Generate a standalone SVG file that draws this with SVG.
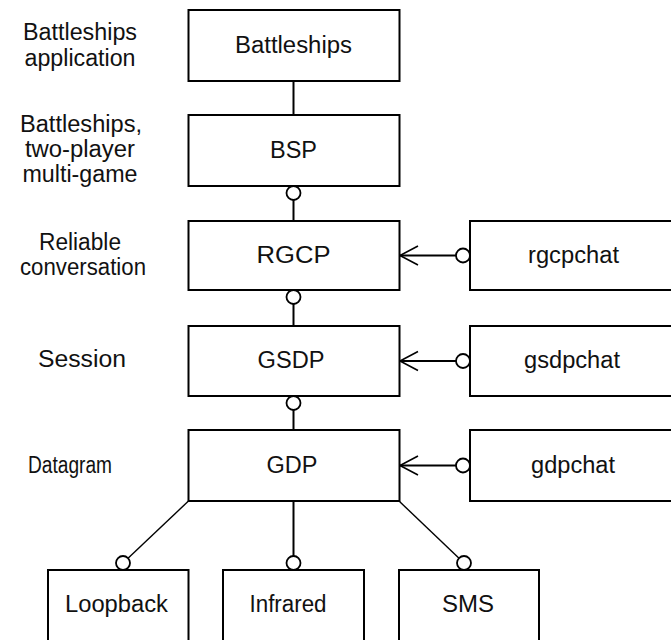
<svg xmlns="http://www.w3.org/2000/svg" width="671" height="640" viewBox="0 0 671 640">
<style>
  .box { fill: #fff; stroke: #000; stroke-width: 2; }
  .t { font-family: "Liberation Sans", Arial, sans-serif; font-size: 23px; fill: #111; text-anchor: middle; }
  .ln { stroke: #000; stroke-width: 2; fill: none; }
  .ar { stroke: #000; stroke-width: 1.6; fill: none; }
  .dg { stroke: #000; stroke-width: 1.4; fill: none; }
  .lol { fill: #fff; stroke: #000; stroke-width: 1.8; }
</style>
<rect width="671" height="640" fill="#fff"/>

<g id="layer-labels">
  <text class="t" x="80" y="40" textLength="114" lengthAdjust="spacingAndGlyphs">Battleships</text>
  <text class="t" x="80" y="66" textLength="111" lengthAdjust="spacingAndGlyphs">application</text>
  <text class="t" x="81" y="132" textLength="122" lengthAdjust="spacingAndGlyphs">Battleships,</text>
  <text class="t" x="80" y="157" textLength="110" lengthAdjust="spacingAndGlyphs">two-player</text>
  <text class="t" x="80" y="182" textLength="115" lengthAdjust="spacingAndGlyphs">multi-game</text>
  <text class="t" x="80" y="250" textLength="82" lengthAdjust="spacingAndGlyphs">Reliable</text>
  <text class="t" x="83" y="275" textLength="126" lengthAdjust="spacingAndGlyphs">conversation</text>
  <text class="t" x="82" y="367" textLength="88" lengthAdjust="spacingAndGlyphs">Session</text>
  <text class="t" x="70" y="473" textLength="84" lengthAdjust="spacingAndGlyphs">Datagram</text>
</g>

<g id="connectors">
  <line class="ln" x1="293.5" y1="81" x2="293.5" y2="115"/>
  <line class="ln" x1="293.5" y1="186" x2="293.5" y2="221"/>
  <line class="ln" x1="293.5" y1="290" x2="293.5" y2="326"/>
  <line class="ln" x1="293.5" y1="396" x2="293.5" y2="430"/>
  <line class="ln" x1="293.5" y1="501" x2="293.5" y2="563"/>
  <line class="dg" x1="188.5" y1="501" x2="123" y2="563"/>
  <line class="dg" x1="399" y1="501" x2="464" y2="563"/>
  <line class="ln" x1="400" y1="255.5" x2="463" y2="255.5"/>
  <line class="ln" x1="400" y1="361" x2="463" y2="361"/>
  <line class="ln" x1="400" y1="465.5" x2="463" y2="465.5"/>
  <polyline class="ar" points="418,246 400,255.5 418,265"/>
  <polyline class="ar" points="418,351.5 400,361 418,370.5"/>
  <polyline class="ar" points="418,456 400,465.5 418,475"/>
  <circle class="lol" cx="293.5" cy="193" r="7"/>
  <circle class="lol" cx="293.5" cy="297" r="7"/>
  <circle class="lol" cx="293.5" cy="403" r="7"/>
  <circle class="lol" cx="463" cy="255.5" r="7"/>
  <circle class="lol" cx="463" cy="361" r="7"/>
  <circle class="lol" cx="463" cy="465.5" r="7"/>
  <circle class="lol" cx="123" cy="563" r="7"/>
  <circle class="lol" cx="293.5" cy="563" r="7"/>
  <circle class="lol" cx="464" cy="563" r="7"/>
</g>

<g id="battleships">
  <rect class="box" x="188.5" y="10" width="211" height="71"/>
  <text class="t" x="293.5" y="53" textLength="117" lengthAdjust="spacingAndGlyphs">Battleships</text>
</g>
<g id="bsp">
  <rect class="box" x="188.5" y="115" width="211" height="71"/>
  <text class="t" x="293.5" y="158" textLength="47" lengthAdjust="spacingAndGlyphs">BSP</text>
</g>
<g id="rgcp">
  <rect class="box" x="188.5" y="221" width="211" height="69"/>
  <text class="t" x="293.5" y="263" textLength="74" lengthAdjust="spacingAndGlyphs">RGCP</text>
</g>
<g id="gsdp">
  <rect class="box" x="188.5" y="326" width="211" height="70"/>
  <text class="t" x="291" y="368" textLength="67" lengthAdjust="spacingAndGlyphs">GSDP</text>
</g>
<g id="gdp">
  <rect class="box" x="188.5" y="430" width="211" height="71"/>
  <text class="t" x="292" y="473" textLength="51" lengthAdjust="spacingAndGlyphs">GDP</text>
</g>
<g id="rgcpchat">
  <rect class="box" x="470" y="221" width="220" height="69"/>
  <text class="t" x="573.5" y="263" textLength="91" lengthAdjust="spacingAndGlyphs">rgcpchat</text>
</g>
<g id="gsdpchat">
  <rect class="box" x="470" y="326" width="220" height="70"/>
  <text class="t" x="572" y="368" textLength="96" lengthAdjust="spacingAndGlyphs">gsdpchat</text>
</g>
<g id="gdpchat">
  <rect class="box" x="470" y="430" width="220" height="71"/>
  <text class="t" x="573" y="473" textLength="84" lengthAdjust="spacingAndGlyphs">gdpchat</text>
</g>
<g id="loopback">
  <rect class="box" x="48" y="570" width="140.5" height="75"/>
  <text class="t" x="116.5" y="612" textLength="103" lengthAdjust="spacingAndGlyphs">Loopback</text>
</g>
<g id="infrared">
  <rect class="box" x="223" y="570" width="141" height="75"/>
  <text class="t" x="288" y="612" textLength="77" lengthAdjust="spacingAndGlyphs">Infrared</text>
</g>
<g id="sms">
  <rect class="box" x="399" y="570" width="140" height="75"/>
  <text class="t" x="468" y="612" textLength="52" lengthAdjust="spacingAndGlyphs">SMS</text>
</g>
</svg>
